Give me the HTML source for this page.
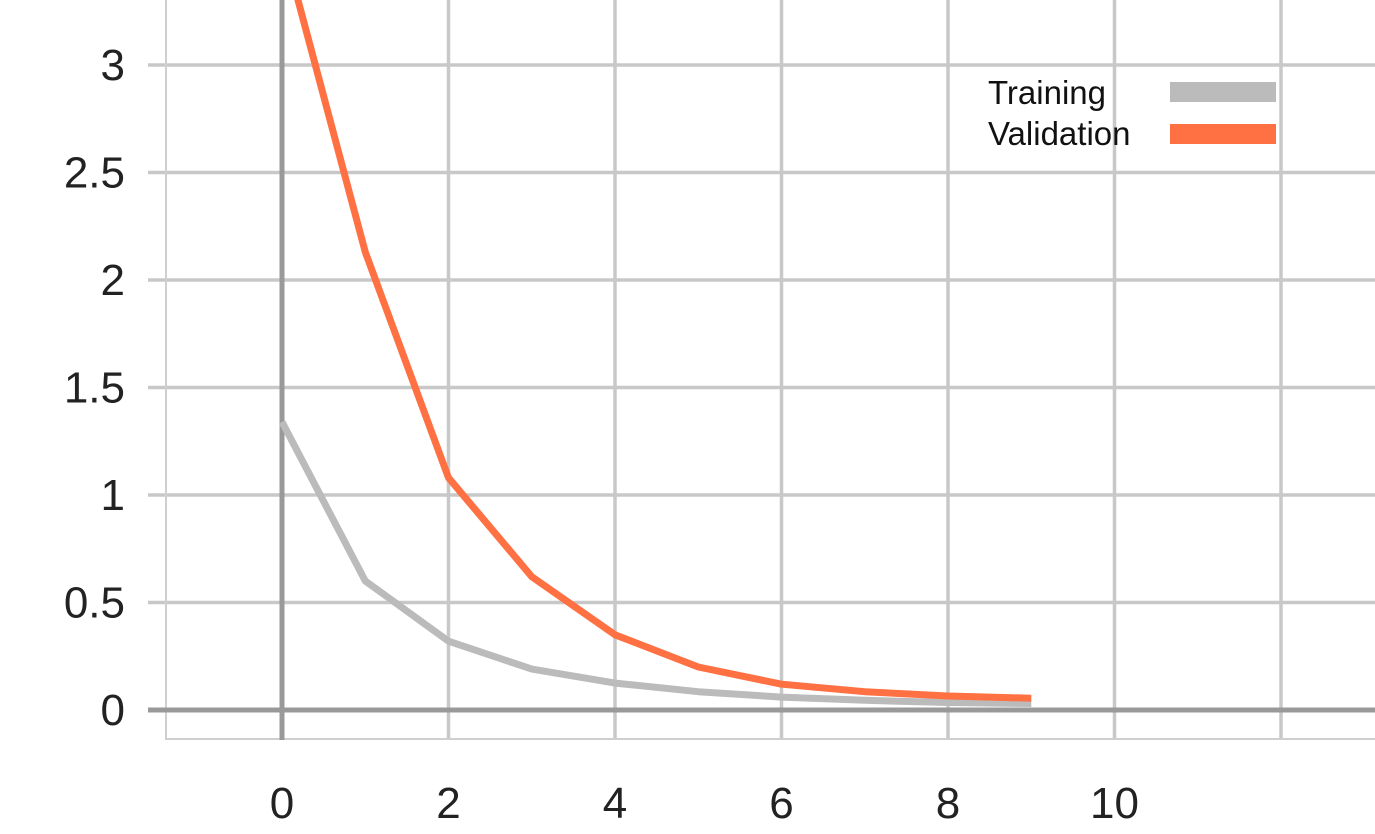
<!DOCTYPE html>
<html><head><meta charset="utf-8"><style>
html,body{margin:0;padding:0;background:#fff;}
svg{display:block;font-family:"Liberation Sans",sans-serif;}
</style></head><body>
<svg id="chart" width="1375" height="834" viewBox="0 0 1375 834" xmlns="http://www.w3.org/2000/svg">
<defs><clipPath id="plotclip"><rect x="0" y="0" width="1375" height="740"/></clipPath></defs>
<g id="grid"></g>
<g id="axes"></g>
<g id="series" clip-path="url(#plotclip)"></g>
<g id="legend">
  <text x="988" y="104" font-size="33" fill="#111">Training</text>
  <line x1="1170" y1="92" x2="1276" y2="92" stroke="#bbbbbb" stroke-width="20"/>
  <text x="988" y="145" font-size="33" fill="#111">Validation</text>
  <line x1="1170" y1="134" x2="1276" y2="134" stroke="#ff7043" stroke-width="20"/>
</g>
</svg>
<script>
const epochs = [0,1,2,3,4,5,6,7,8,9];
const training = [1.34,0.6,0.32,0.19,0.125,0.085,0.06,0.045,0.035,0.03];
const validation = [3.58,2.13,1.08,0.62,0.35,0.2,0.12,0.085,0.065,0.055];
const xTicks = [0,2,4,6,8,10];
const xGrid = [0,2,4,6,8,10,12];
const yTicks = [0,0.5,1,1.5,2,2.5,3];
const yLabels = ["0","0.5","1","1.5","2","2.5","3"];

const X = v => 282 + v*83.25;
const Y = v => 710 - v*215;
const NS = "http://www.w3.org/2000/svg";
function mk(tag, attrs, parent){const e=document.createElementNS(NS,tag);for(const k in attrs)e.setAttribute(k,attrs[k]);parent.appendChild(e);return e;}
const grid=document.getElementById('grid'), axes=document.getElementById('axes'), series=document.getElementById('series');

yTicks.forEach((t,i)=>{
  if(t===0) return;
  const l=mk('line',{x1:148,x2:1375,y1:Y(t),y2:Y(t),stroke:'#c8c8c8','stroke-width':3.5},grid);
  
  
});
xGrid.forEach(t=>{
  if(t===0) return;
  const l=mk('line',{x1:X(t),x2:X(t),y1:0,y2:738,stroke:'#c8c8c8','stroke-width':3.5},grid);
  
  
});
const lb=mk('line',{x1:166,x2:166,y1:0,y2:740,stroke:'#cfcfcf','stroke-width':2},grid);


const bb=mk('line',{x1:166,x2:1375,y1:739,y2:739,stroke:'#cfcfcf','stroke-width':2},grid);



const za=mk('line',{x1:148,x2:1375,y1:Y(0),y2:Y(0),stroke:'#999','stroke-width':5},axes);


const zv=mk('line',{x1:X(0),x2:X(0),y1:0,y2:740,stroke:'#999','stroke-width':5},axes);



yTicks.forEach((t,i)=>{
  const tx=mk('text',{x:125,y:Y(t)+15,'font-size':44,fill:'#222','text-anchor':'end'},axes);
  tx.textContent=yLabels[i];
  
  
});
xTicks.forEach(t=>{
  const tx=mk('text',{x:X(t),y:818,'font-size':44,fill:'#222','text-anchor':'middle'},axes);
  tx.textContent=String(t);
  
  
});

function line(data,color,name){
  const d=data.map((v,i)=>(i?'L':'M')+X(epochs[i]).toFixed(1)+','+Y(v).toFixed(1)).join(' ');
  const p=mk('path',{d:d,fill:'none',stroke:color,'stroke-width':7,'stroke-linejoin':'round'},series);
  
  
}
line(training,'#bbbbbb','training-line');
line(validation,'#ff7043','validation-line');
</script>
</body></html>
